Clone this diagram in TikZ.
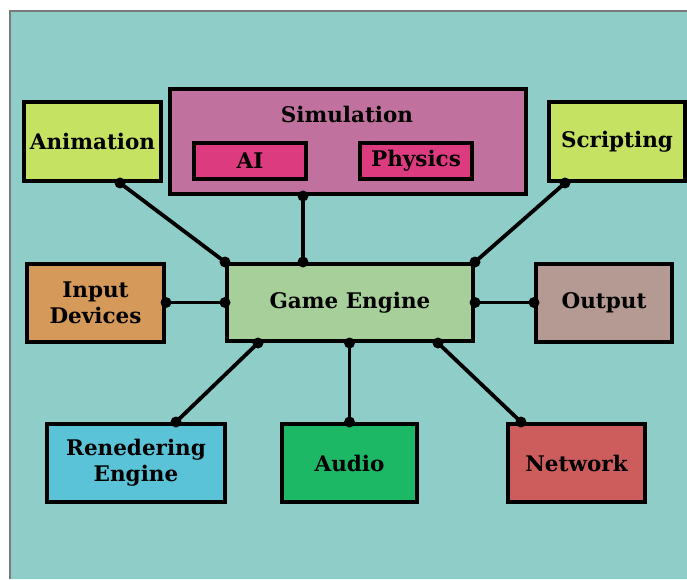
\documentclass[tikz,border=0pt]{standalone}
\usepackage{fontspec}
\setmainfont{DejaVu Serif}
\usetikzlibrary{calc}
\definecolor{bgteal}{HTML}{8ECDC8}
\definecolor{bgedge}{HTML}{7A7A7A}
\definecolor{cLime}{HTML}{C5E263}
\definecolor{cSim}{HTML}{C1719D}
\definecolor{cPink}{HTML}{DD3B80}
\definecolor{cInput}{HTML}{D59A5A}
\definecolor{cGE}{HTML}{A7CF9A}
\definecolor{cOut}{HTML}{B49A92}
\definecolor{cRend}{HTML}{5BC3D7}
\definecolor{cAudio}{HTML}{1DB866}
\definecolor{cNet}{HTML}{CC5D5C}
\tikzset{
  x=1pt, y=1pt,
  box/.style={draw=black, line width=4pt, rectangle, inner sep=0pt,
    font=\fontsize{21.5}{26}\selectfont\bfseries, align=center, text=black},
  link/.style={draw=black, line width=3.8pt},
}
\begin{document}
\begin{tikzpicture}
\useasboundingbox (0,0) rectangle (687,579);
\fill[bgteal] (10,0) rectangle (687,568);
\draw[bgedge, line width=2pt] (10,0) -- (10,568) -- (687,568);

% nodes
\node[box, fill=cLime, minimum width=137, minimum height=79] (anim) at (92.5,437.5) {Animation};
\node[box, fill=cSim, minimum width=356, minimum height=105] (sim) at (348,437.5) {};
\node[font=\fontsize{21.5}{26}\selectfont\bfseries, text=black] (simlbl) at (347,465) {Simulation};
\node[box, fill=cPink, line width=3.5pt, minimum width=112, minimum height=36] (ai) at (250,418) {AI};
\node[box, fill=cPink, line width=3.5pt, minimum width=112, minimum height=36] (phys) at (416,418) {Physics};
\node[box, fill=cLime, minimum width=136, minimum height=79] (script) at (617,437.5) {Scripting};

\node[box, fill=cInput, minimum width=137, minimum height=78] (input) at (95.5,276.5) {Input\\Devices};
\node[box, fill=cGE, minimum width=246, minimum height=77] (ge) at (350,276.5) {Game Engine};
\node[box, fill=cOut, minimum width=136, minimum height=78] (out) at (604,276.5) {Output};

\node[box, fill=cRend, minimum width=178, minimum height=78] (rend) at (136,116) {Renedering\\Engine};
\node[box, fill=cAudio, minimum width=135, minimum height=78] (audio) at (349.5,116) {Audio};
\node[box, fill=cNet, minimum width=137, minimum height=78] (net) at (576.5,116) {Network};

% connection points
\coordinate (a1) at ($(anim.south)+(27.5,0)$);
\coordinate (s1) at ($(sim.south)+(-45,0)$);
\coordinate (g1) at (s1 |- ge.north);
\coordinate (sc1) at ($(script.south)+(-52,0)$);
\coordinate (gb1) at ($(ge.south)+(-92,0)$);
\coordinate (r1) at ($(rend.north)+(40,0)$);
\coordinate (gb2) at (audio.north |- ge.south);
\coordinate (gb3) at ($(ge.south)+(88,0)$);
\coordinate (n1) at ($(net.north)+(-55.5,0)$);

% connectors
\draw[link] (a1) -- (ge.north west);
\draw[link] (s1) -- (g1);
\draw[link] (sc1) -- (ge.north east);
\draw[link] (input.east) -- (ge.west);
\draw[link] (ge.east) -- (out.west);
\draw[link] (gb1) -- (r1);
\draw[link] (gb2) -- (audio.north);
\draw[link] (gb3) -- (n1);

% dots
\foreach \p in {a1, ge.north west, s1, g1, sc1, ge.north east, input.east, ge.west, ge.east, out.west, gb1, r1, gb2, audio.north, gb3, n1}
  {\fill[black] (\p) circle (5.5);}
\end{tikzpicture}
\end{document}
